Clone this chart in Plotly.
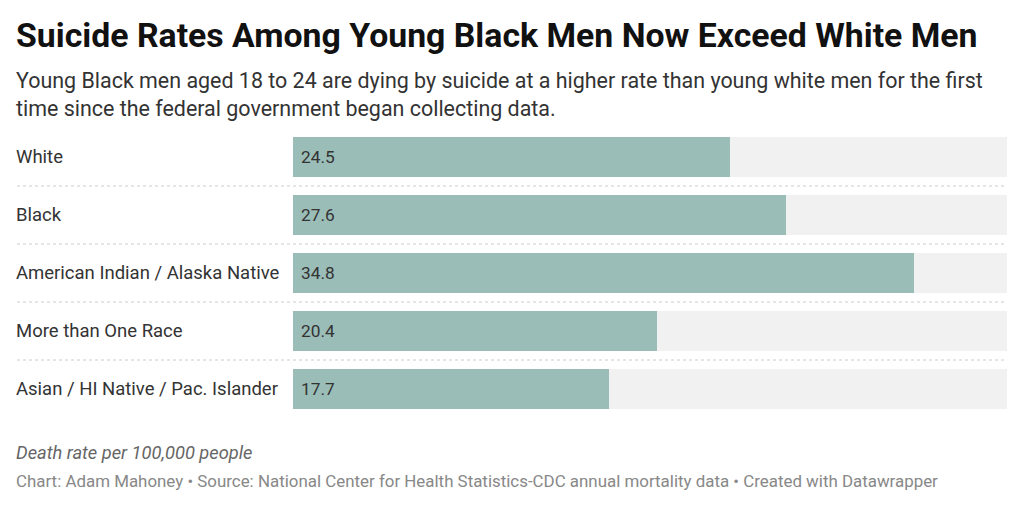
import plotly.graph_objects as go

categories = ["White", "Black", "American Indian / Alaska Native", "More than One Race", "Asian / HI Native / Pac. Islander"]
values = [24.5, 27.6, 34.8, 20.4, 17.7]
axis_max = 40

title = "Suicide Rates Among Young Black Men Now Exceed White Men"
subtitle = ("Young Black men aged 18 to 24 are dying by suicide at a higher rate than young white men for the first<br>"
            "time since the federal government began collecting data.")
note = "Death rate per 100,000 people"
credits = "Chart: Adam Mahoney • Source: National Center for Health Statistics-CDC annual mortality data • Created with Datawrapper"

W, H = 1024, 506
L, R, T, B = 293, 17, 128, 88
pw = W - L - R
ph = H - T - B

def px(x):
    return (x - L) / pw

def py(y):
    return 1 - (y - T) / ph

fig = go.Figure()
fig.add_trace(go.Bar(
    y=categories, x=[axis_max] * len(categories), orientation="h",
    marker=dict(color="#f1f1f1", line=dict(width=0)), width=0.69,
    hoverinfo="skip", showlegend=False,
))
fig.add_trace(go.Bar(
    y=categories, x=values, orientation="h",
    marker=dict(color="#9bbdb7", line=dict(width=0)), width=0.69,
    showlegend=False,
))

annotations = []
for c, v in zip(categories, values):
    annotations.append(dict(
        x=px(14), xref="paper", y=c, yref="y", text=c, showarrow=False,
        xanchor="left", yanchor="middle",
        font=dict(family="Roboto", size=18.5, color="#333333"),
    ))
    annotations.append(dict(
        x=0, xref="x", y=c, yref="y", text=f"{v:.1f}", showarrow=False,
        xanchor="left", yanchor="middle", xshift=6,
        font=dict(family="Roboto", size=17.3, color="#333333"),
    ))
annotations += [
    dict(x=px(14), y=py(14), xref="paper", yref="paper", text=f"<b>{title}</b>",
         showarrow=False, xanchor="left", yanchor="top",
         font=dict(family="Roboto", size=33.8, color="#111111")),
    dict(x=px(14), y=py(66), xref="paper", yref="paper", text=subtitle,
         showarrow=False, xanchor="left", yanchor="top", align="left",
         font=dict(family="Roboto", size=21.45, color="#333333")),
    dict(x=px(14), y=py(440), xref="paper", yref="paper", text=f"<i>{note}</i>",
         showarrow=False, xanchor="left", yanchor="top",
         font=dict(family="Roboto", size=18.3, color="#666666")),
    dict(x=px(14), y=py(469), xref="paper", yref="paper", text=credits,
         showarrow=False, xanchor="left", yanchor="top",
         font=dict(family="Roboto", size=16.9, color="#888888")),
]

shapes = []
for i in range(len(categories) - 1):
    shapes.append(dict(
        type="line", xref="paper", yref="y", x0=px(17), x1=px(1007),
        y0=i + 0.5, y1=i + 0.5, line=dict(color="#cccccc", width=1, dash="dot"),
    ))

fig.update_layout(
    width=W, height=H, margin=dict(l=L, r=R, t=T, b=B),
    paper_bgcolor="white", plot_bgcolor="white",
    barmode="overlay", bargap=0,
    xaxis=dict(range=[0, axis_max], visible=False, fixedrange=True),
    yaxis=dict(autorange="reversed", showticklabels=False, showgrid=False,
               zeroline=False, fixedrange=True),
    annotations=annotations, shapes=shapes,
    font=dict(family="Roboto"),
)

fig.write_html("out.html", config={"displayModeBar": False})
